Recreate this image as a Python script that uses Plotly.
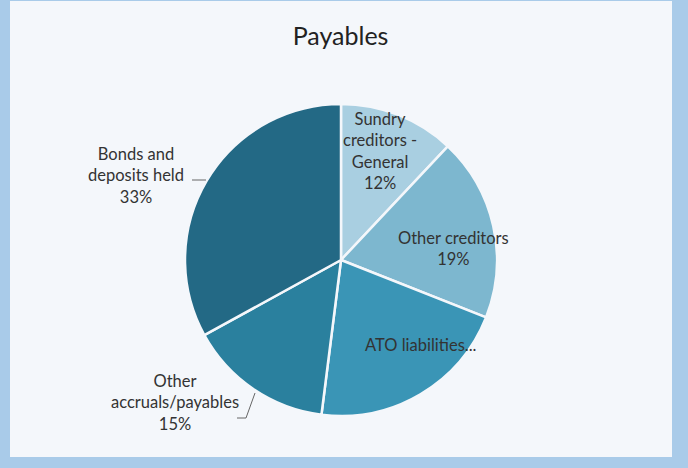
import plotly.graph_objects as go

# Payables breakdown (share of total, %)
categories = ["Sundry creditors - General", "Other creditors", "ATO liabilities",
              "Other accruals/payables", "Bonds and deposits held"]
shares = [12, 19, 21, 15, 33]
slice_colors = ["#a9cfe1", "#7db7cf", "#3a95b6", "#2a809e", "#236985"]

# Displayed label text per slice (line-broken like the chart's callouts)
label_text = ["Sundry<br>creditors -<br>General<br>{}%",
              "Other creditors<br>{}%",
              "ATO liabilities...",
              "Other<br>accruals/payables<br>{}%",
              "Bonds and<br>deposits held<br>{}%"]

W, H = 688, 468
cx, cy, r = 341, 260, 156


def px(x):
    return x / W


def py(y):
    return 1 - y / H


fig = go.Figure(go.Pie(
    labels=categories,
    values=shares,
    sort=False,
    direction="clockwise",
    rotation=0,
    marker=dict(colors=slice_colors, line=dict(color="#f4f7fb", width=2.5)),
    textinfo="none",
    hoverinfo="label+percent",
    showlegend=False,
    domain=dict(x=[px(cx - r), px(cx + r)], y=[py(cy + r), py(cy - r)]),
))

# label anchor points (pixel centres)
label_pos = [(380, 151), (454, 248), (420, 345), (175, 402), (136, 175)]
font = dict(family="Lato, 'Open Sans', sans-serif", size=16.5, color="#333333")
for txt, v, (x, y) in zip(label_text, shares, label_pos):
    fig.add_annotation(x=px(x), y=py(y), xref="paper", yref="paper",
                       text=txt.format(v), showarrow=False, font=font,
                       align="center", xanchor="center", yanchor="middle")

# leader lines for the outside labels
fig.add_shape(type="path", xref="paper", yref="paper",
              path=f"M {px(192)} {py(180)} L {px(206)} {py(180)}",
              line=dict(color="#666666", width=1))
fig.add_shape(type="path", xref="paper", yref="paper",
              path=f"M {px(237)} {py(418)} L {px(246)} {py(418)} L {px(255)} {py(393)}",
              line=dict(color="#666666", width=1))

# chart frame: light inner panel over a blue border
fig.add_shape(type="rect", xref="paper", yref="paper", layer="below",
              x0=px(10), x1=px(672), y0=py(457), y1=py(1),
              fillcolor="#f4f7fb", line=dict(width=0))

fig.update_layout(
    width=W, height=H,
    margin=dict(l=0, r=0, t=0, b=0),
    paper_bgcolor="#a9cbe9",
    title=dict(text="Payables", x=0.495, xanchor="center", y=py(36), yanchor="middle",
               font=dict(family="Lato, 'Open Sans', sans-serif", size=25, color="#222222")),
)

fig.write_html("out.html")
